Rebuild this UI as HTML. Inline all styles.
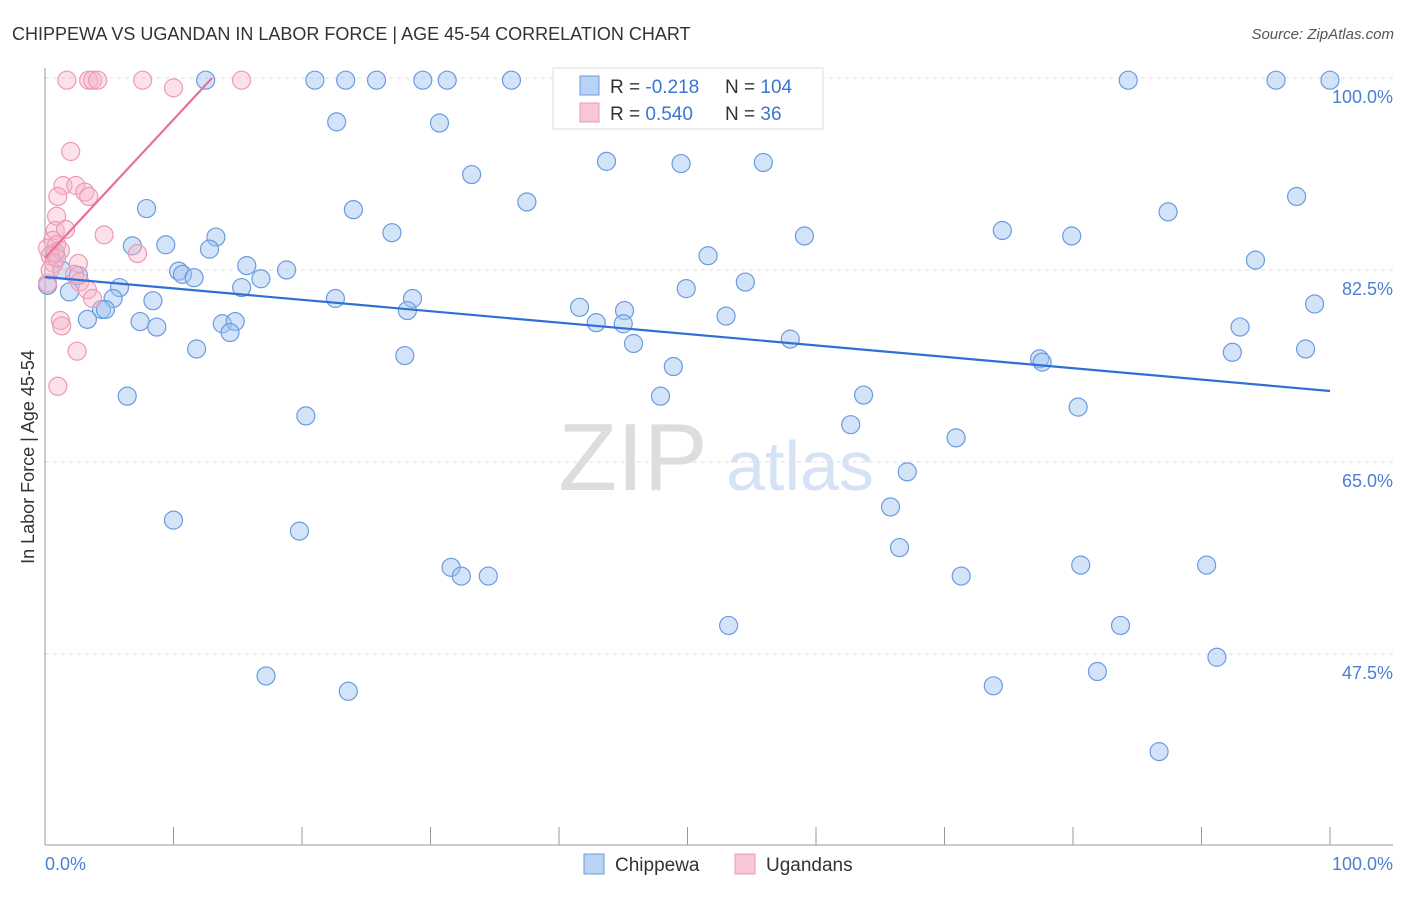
<!DOCTYPE html>
<html><head><meta charset="utf-8"><style>
body{margin:0;background:#fff;font-family:"Liberation Sans",sans-serif}
svg text{font-family:"Liberation Sans",sans-serif}
</style></head><body>
<svg width="1406" height="892" xmlns="http://www.w3.org/2000/svg">
<text x="12" y="40" font-size="18" fill="#333">CHIPPEWA VS UGANDAN IN LABOR FORCE | AGE 45-54 CORRELATION CHART</text>
<text x="1394" y="39" font-size="15" fill="#555" font-style="italic" text-anchor="end">Source: ZipAtlas.com</text>
<g><text x="633" y="490" font-size="96" fill="#ddd" font-family="Liberation Serif" text-anchor="middle">ZIP</text><text x="800" y="490" font-size="70" fill="#d6e3f5" text-anchor="middle">atlas</text></g>
<g id="grid"></g>
<line x1="45" y1="68" x2="45" y2="845" stroke="#999"/>
<line x1="45" y1="845" x2="1393" y2="845" stroke="#999"/>
<g id="xticks"></g>
<text x="45" y="870" font-size="18" fill="#4a7fd6">0.0%</text>
<text x="1393" y="870" font-size="18" fill="#4a7fd6" text-anchor="end">100.0%</text>
<text transform="translate(34,457) rotate(-90)" font-size="18" fill="#333" text-anchor="middle">In Labor Force | Age 45-54</text>
<g id="pts"></g>
<g id="lines"></g>
<g>
<rect x="553" y="68" width="270" height="61" fill="#fff" stroke="#ddd"/>
<rect x="580" y="76" width="19" height="19" fill="#b9d3f5" stroke="#6a9be0"/>
<rect x="580" y="103" width="19" height="19" fill="#f9c6d6" stroke="#ec9ab5"/>
<text x="610" y="93" font-size="19" fill="#333">R = <tspan fill="#3c74d4">-0.218</tspan></text>
<text x="725" y="93" font-size="19" fill="#333">N = <tspan fill="#3c74d4">104</tspan></text>
<text x="610" y="120" font-size="19" fill="#333">R = <tspan fill="#3c74d4">0.540</tspan></text>
<text x="725" y="120" font-size="19" fill="#333">N = <tspan fill="#3c74d4">  36</tspan></text>
</g>
<g>
<rect x="584" y="854" width="20" height="20" fill="#b9d3f5" stroke="#6a9be0"/>
<text x="615" y="871" font-size="19" fill="#333">Chippewa</text>
<rect x="735" y="854" width="20" height="20" fill="#f9c6d6" stroke="#ec9ab5"/>
<text x="766" y="871" font-size="19" fill="#333">Ugandans</text>
</g>
</svg>
<script>
const yTicks=[100,82.5,65,47.5];
const yTickLabels=["100.0%","82.5%","65.0%","47.5%"];
const blueX=[12.5,21.0,23.4,25.8,29.4,31.3,36.3,46.5,84.3,95.8,100,22.7,30.7,33.2,43.7,49.5,55.9,97.4,7.9,24.0,37.5,87.4,27.0,13.3,74.5,79.9,59.1,6.8,9.4,12.8,51.6,94.2,0.8,15.7,18.8,10.4,10.7,11.6,16.8,1.3,2.6,54.5,49.9,15.3,5.8,1.9,5.3,8.4,22.6,28.6,98.8,41.6,45.1,28.2,4.4,4.7,3.3,7.4,8.7,13.8,14.8,14.4,42.9,45.0,53.0,93.0,11.8,28.0,45.8,58.0,92.4,98.1,77.4,77.6,48.9,6.4,47.9,63.7,20.3,62.7,80.4,70.9,67.1,10.0,19.8,65.8,31.6,32.4,34.5,66.5,71.3,80.6,90.4,53.2,83.7,91.2,17.2,23.6,73.8,81.9,86.7,0.2];
const blueY=[99.8,99.8,99.8,99.8,99.8,99.8,99.8,99.8,99.8,99.8,99.8,96.0,95.9,91.2,92.4,92.2,92.3,89.2,88.1,88.0,88.7,87.8,85.9,85.5,86.1,85.6,85.6,84.7,84.8,84.4,83.8,83.4,84.1,82.9,82.5,82.4,82.1,81.8,81.7,82.5,82.0,81.4,80.8,80.9,80.9,80.5,79.9,79.7,79.9,79.9,79.4,79.1,78.8,78.8,78.9,78.9,78.0,77.8,77.3,77.6,77.8,76.8,77.7,77.6,78.3,77.3,75.3,74.7,75.8,76.2,75.0,75.3,74.4,74.1,73.7,71.0,71.0,71.1,69.2,68.4,70.0,67.2,64.1,59.7,58.7,60.9,55.4,54.6,54.6,57.2,54.6,55.6,55.6,50.1,50.1,47.2,45.5,44.1,44.6,45.9,38.6,81.1];
const pinkX=[1.7,3.4,3.7,4.1,7.6,10.0,15.3,2.0,1.4,2.4,3.1,3.4,1.0,0.9,0.8,1.6,4.6,0.6,0.2,0.9,1.2,0.4,7.2,0.7,2.6,2.3,2.7,3.3,3.7,1.2,1.3,2.5,1.0,0.2,0.4,0.9];
const pinkY=[99.8,99.8,99.8,99.8,99.8,99.1,99.8,93.3,90.2,90.2,89.6,89.2,89.2,87.4,86.1,86.2,85.7,85.2,84.5,84.8,84.3,83.8,84.0,83.1,83.1,82.1,81.4,80.7,79.9,77.9,77.4,75.1,71.9,81.3,82.5,83.6];
const blueTrend=[[0,81.86],[100,71.47]];
const pinkTrend=[[0,83.6],[13,100]];
const NS="http://www.w3.org/2000/svg";
const xs=v=>45+v*12.85, ys=v=>78+(100-v)*10.971;
function mk(t,a,p){const e=document.createElementNS(NS,t);for(const k in a)e.setAttribute(k,a[k]);p.appendChild(e);return e;}
const grid=document.getElementById('grid');
yTicks.forEach((t,i)=>{
 const l=mk('line',{x1:45,x2:1393,y1:ys(t),y2:ys(t),stroke:'#ddd','stroke-dasharray':'4,4'},grid);
 
 
 const tx=mk('text',{x:1393,y:ys(t)+25,'font-size':18,fill:'#4a7fd6','text-anchor':'end'},grid);
 tx.textContent=yTickLabels[i];
 
 
});
const xt=document.getElementById('xticks');
for(let i=1;i<=10;i++){const l=mk('line',{x1:xs(i*10),x2:xs(i*10),y1:827,y2:845,stroke:'#999'},xt);
 
 }
const pts=document.getElementById('pts');
blueX.forEach((x,i)=>{const c=mk('circle',{cx:xs(x),cy:ys(blueY[i]),r:9,fill:'rgba(160,196,240,0.45)',stroke:'#6a9be0','stroke-width':1.2},pts);
 
 });
pinkX.forEach((x,i)=>{const c=mk('circle',{cx:xs(x),cy:ys(pinkY[i]),r:9,fill:'rgba(248,180,200,0.4)',stroke:'#ec9ab5','stroke-width':1.2},pts);
 
 });
const lg=document.getElementById('lines');
const bl=mk('line',{x1:xs(blueTrend[0][0]),y1:ys(blueTrend[0][1]),x2:xs(blueTrend[1][0]),y2:ys(blueTrend[1][1]),stroke:'#2f6fd6','stroke-width':2.2},lg);


const pl=mk('line',{x1:xs(pinkTrend[0][0]),y1:ys(pinkTrend[0][1]),x2:xs(pinkTrend[1][0]),y2:ys(pinkTrend[1][1]),stroke:'#e8709a','stroke-width':2.2},lg);


</script>
</body></html>
